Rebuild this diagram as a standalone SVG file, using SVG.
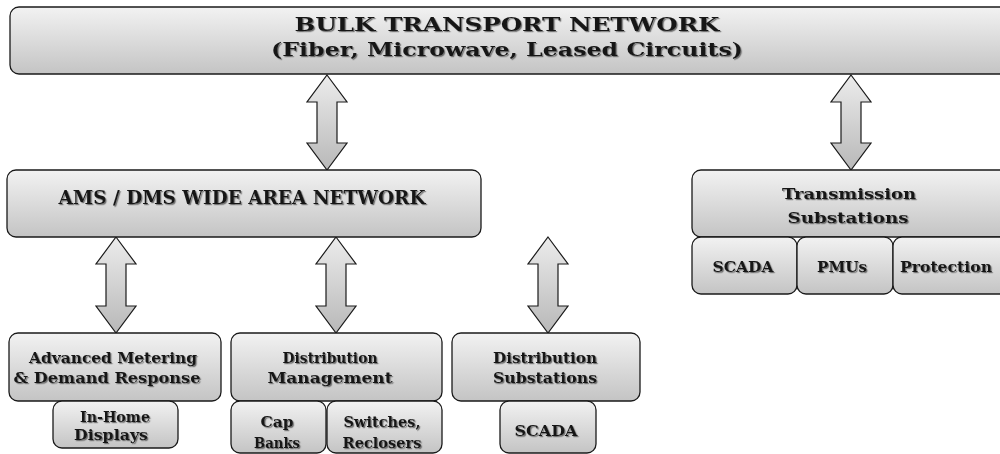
<svg xmlns="http://www.w3.org/2000/svg" width="1000" height="454" viewBox="0 0 1000 454">
<defs>
<linearGradient id="g" x1="0" y1="0" x2="0" y2="1">
<stop offset="0" stop-color="#f2f2f2"/>
<stop offset="1" stop-color="#c4c4c4"/>
</linearGradient>
<linearGradient id="ga" x1="0" y1="0" x2="0" y2="1">
<stop offset="0" stop-color="#ececec"/>
<stop offset="1" stop-color="#b8b8b8"/>
</linearGradient>
<filter id="sh" x="-5%" y="-20%" width="110%" height="140%">
<feDropShadow dx="1.2" dy="1.2" stdDeviation="0.4" flood-color="#666" flood-opacity="0.9"/>
</filter>
</defs>
<style>
.b{fill:url(#g);stroke:#1a1a1a;stroke-width:1.3}
.a{fill:url(#ga);stroke:#1a1a1a;stroke-width:1.2;stroke-linejoin:miter}
text{font-family:"DejaVu Serif","Liberation Serif",serif;font-weight:bold;fill:#181818;text-anchor:middle;filter:url(#sh)}
.t1{font-size:19px}
.t3{font-size:14px}
</style>
<g id="connectors">
<path class="a" d="M327,75 L347,102 L337,102 L337,143 L347,143 L327,170 L307,143 L317,143 L317,102 L307,102 Z"/>
<path class="a" d="M851,75 L871,102 L861,102 L861,143 L871,143 L851,170 L831,143 L841,143 L841,102 L831,102 Z"/>
<path class="a" d="M116,237 L136,264 L126,264 L126,306 L136,306 L116,333 L96,306 L106,306 L106,264 L96,264 Z"/>
<path class="a" d="M336,237 L356,264 L346,264 L346,306 L356,306 L336,333 L316,306 L326,306 L326,264 L316,264 Z"/>
<path class="a" d="M548,237 L568,264 L558,264 L558,306 L568,306 L548,333 L528,306 L538,306 L538,264 L528,264 Z"/>
</g>
<g id="bulk">
<rect class="b" x="10" y="7" width="1000" height="67" rx="9"/>
<text class="t1" x="507" y="31" textLength="425" lengthAdjust="spacingAndGlyphs">BULK TRANSPORT NETWORK</text>
<text class="t1" x="507" y="56" textLength="472" lengthAdjust="spacingAndGlyphs">(Fiber, Microwave, Leased Circuits)</text>
</g>
<g id="ams">
<rect class="b" x="7" y="170" width="474" height="67" rx="9"/>
<text class="t1" x="242" y="204" textLength="367" lengthAdjust="spacingAndGlyphs">AMS / DMS WIDE AREA NETWORK</text>
</g>
<g id="trans">
<rect class="b" x="692" y="170" width="320" height="67" rx="9"/>
<text class="t3" x="849" y="199" textLength="134" lengthAdjust="spacingAndGlyphs">Transmission</text>
<text class="t3" x="848" y="223" textLength="121" lengthAdjust="spacingAndGlyphs">Substations</text>
</g>
<g id="trans-scada">
<rect class="b" x="692" y="237" width="105" height="57" rx="9"/>
<text class="t3" x="743" y="272" textLength="61" lengthAdjust="spacingAndGlyphs">SCADA</text>
</g>
<g id="trans-pmus">
<rect class="b" x="797" y="237" width="96" height="57" rx="9"/>
<text class="t3" x="842" y="272" textLength="50" lengthAdjust="spacingAndGlyphs">PMUs</text>
</g>
<g id="trans-protection">
<rect class="b" x="893" y="237" width="120" height="57" rx="9"/>
<text class="t3" x="946" y="272" textLength="92" lengthAdjust="spacingAndGlyphs">Protection</text>
</g>
<g id="metering">
<rect class="b" x="9" y="333" width="212" height="68" rx="9"/>
<text class="t3" x="113" y="363" textLength="168" lengthAdjust="spacingAndGlyphs">Advanced Metering</text>
<text class="t3" x="107" y="383" textLength="187" lengthAdjust="spacingAndGlyphs">&amp; Demand Response</text>
</g>
<g id="inhome">
<rect class="b" x="53" y="401" width="125" height="47" rx="9"/>
<text class="t3" x="115" y="422" textLength="70" lengthAdjust="spacingAndGlyphs">In-Home</text>
<text class="t3" x="111" y="440" textLength="74" lengthAdjust="spacingAndGlyphs">Displays</text>
</g>
<g id="distmgmt">
<rect class="b" x="231" y="333" width="211" height="68" rx="9"/>
<text class="t3" x="330" y="363" textLength="95" lengthAdjust="spacingAndGlyphs">Distribution</text>
<text class="t3" x="330" y="383" textLength="125" lengthAdjust="spacingAndGlyphs">Management</text>
</g>
<g id="capbanks">
<rect class="b" x="231" y="401" width="95" height="52" rx="9"/>
<text class="t3" x="277" y="427" textLength="33" lengthAdjust="spacingAndGlyphs">Cap</text>
<text class="t3" x="277" y="448" textLength="46" lengthAdjust="spacingAndGlyphs">Banks</text>
</g>
<g id="switches">
<rect class="b" x="327" y="401" width="115" height="52" rx="9"/>
<text class="t3" x="382" y="427" textLength="77" lengthAdjust="spacingAndGlyphs">Switches,</text>
<text class="t3" x="382" y="448" textLength="79" lengthAdjust="spacingAndGlyphs">Reclosers</text>
</g>
<g id="distsub">
<rect class="b" x="452" y="333" width="188" height="68" rx="9"/>
<text class="t3" x="545" y="363" textLength="104" lengthAdjust="spacingAndGlyphs">Distribution</text>
<text class="t3" x="545" y="383" textLength="104" lengthAdjust="spacingAndGlyphs">Substations</text>
</g>
<g id="distsub-scada">
<rect class="b" x="500" y="401" width="96" height="52" rx="9"/>
<text class="t3" x="546" y="436" textLength="63" lengthAdjust="spacingAndGlyphs">SCADA</text>
</g>
</svg>
